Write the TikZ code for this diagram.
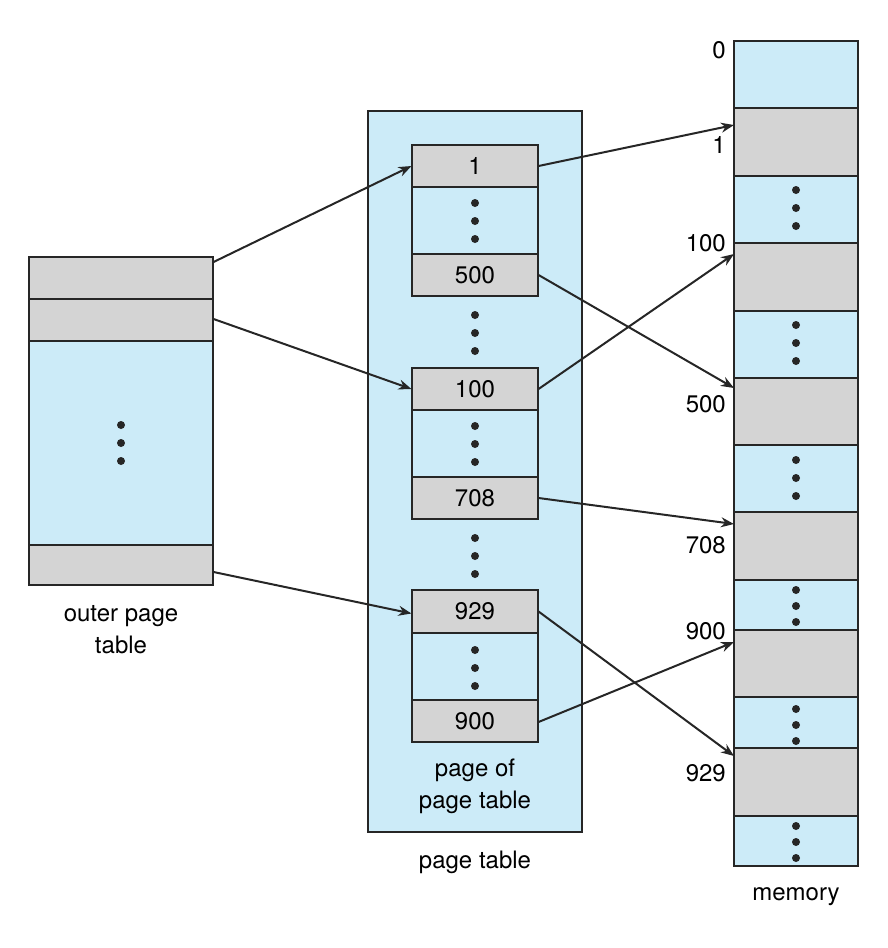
\documentclass[tikz,border=0pt]{standalone}
\usepackage{fontspec}
\setmainfont{TeX Gyre Heros}
\usetikzlibrary{arrows.meta}
\definecolor{cb}{HTML}{CCEBF8}
\definecolor{cg}{HTML}{D4D4D4}
\begin{document}
\begin{tikzpicture}[x=1pt,y=-1pt,
 cell/.style={draw=black!85,line width=1.1pt,inner sep=0pt,minimum width=#1},
 g/.style={fill=cg},b/.style={fill=cb},
 lab/.style={font=\fontsize{24}{28}\selectfont,inner sep=0pt},
 dot/.style={circle,fill=black!85,inner sep=0pt,minimum size=8pt},
 arr/.style={-{Stealth[length=13pt,width=10pt]},line width=2pt,draw=black!85}]
\useasboundingbox (0,0) rectangle (888,948);
% page table box
\node[cell=214pt,b,minimum height=721pt] (pt) at (475,471.5) {};
\node[lab] (ptl) at (475,862) {page table};
% outer page table
\foreach \n/\a/\z/\s in {o1/257/299/g,o2/299/341/g,o3/341/545/b,o4/545/585/g}{
 \node[cell=184pt,\s,minimum height={\z-\a}] (\n) at (121,{(\a+\z)/2}) {};}
\foreach \y/\k in {425/a,443/b,461/c}{\node[dot] (od\k) at (121,\y) {};}
\node[lab,align=center] (ol) at (121,630) {outer page\\[4pt]table};
% inner boxes
\foreach \n/\a/\z/\s/\t in {p1/145/187/g/1,p2/187/254/b/,p3/254/296/g/500,
 p4/368/410/g/100,p5/410/477/b/,p6/477/519/g/708,
 p7/590/633/g/929,p8/633/700/b/,p9/700/742/g/900}{
 \node[cell=126pt,\s,minimum height={\z-\a},lab] (\n) at (475,{(\a+\z)/2}) {\t};}
\foreach \y [count=\i] in {203,221,239,315,333,351,426,444,462,538,556,574,650,668,686}{
 \node[dot] (pd\i) at (475,\y) {};}
\node[lab,align=center] (pl) at (475,786) {page of\\[4pt]page table};
% memory
\foreach \n/\a/\z/\s in {m1/41/108/b,m2/108/176/g,m3/176/243/b,m4/243/311/g,m5/311/378/b,
 m6/378/445/g,m7/445/512/b,m8/512/580/g,m9/580/630/b,m10/630/697/g,m11/697/748/b,
 m12/748/816/g,m13/816/866/b}{
 \node[cell=124pt,\s,minimum height={\z-\a}] (\n) at (796,{(\a+\z)/2}) {};}
\foreach \y [count=\i] in {190,208,226,325,343,361,460,478,496,590,606,622,709,725,741,826,842,858}{
 \node[dot] (md\i) at (796,\y) {};}
\node[lab] (ml) at (796,897) {memory};
\foreach \y/\t in {50/0,145/1,243/100,404/500,545/708,631/900,773/929}{
 \node[lab,anchor=east] (ml\t) at (726,\y) {\t};}
% targets
\coordinate (t1) at (734,125);
\coordinate (t500) at (734,388);
\coordinate (t100) at (734,254);
\coordinate (t708) at (734,524);
\coordinate (t929) at (734,756);
\coordinate (t900) at (734,642);
\draw[arr] (o1.east) ++(0,-16) coordinate (s1) -- (p1.west);
\draw[arr] ([yshift=1pt]o2.east) -- (p4.west);
\draw[arr] ([yshift=-7pt]o4.east) -- ([yshift=-2pt]p7.west);
\draw[arr] (p1.east) -- (t1);
\draw[arr] (p3.east) -- (t500);
\draw[arr] (p4.east) -- (t100);
\draw[arr] (p6.east) -- (t708);
\draw[arr] (p7.east) -- (t929);
\draw[arr] ([yshift=-1pt]p9.east) -- (t900);
\end{tikzpicture}
\end{document}
